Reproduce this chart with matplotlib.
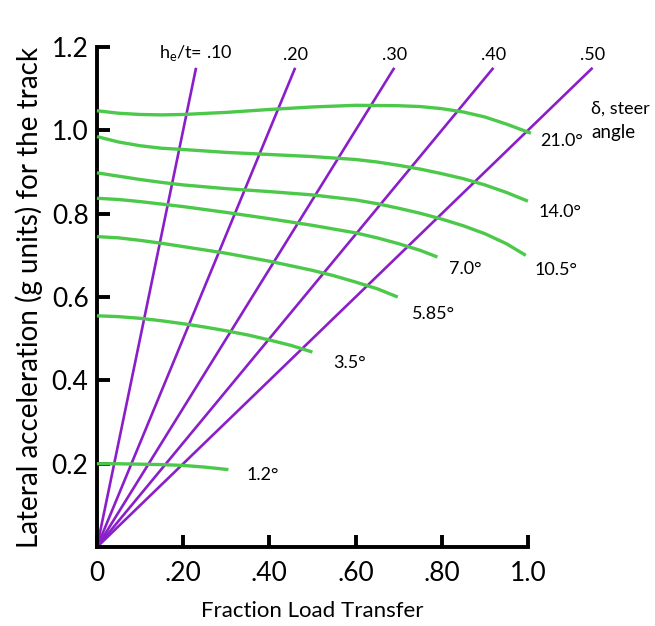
import matplotlib.pyplot as plt
import numpy as np

plt.rcParams['font.family'] = ['Lato', 'DejaVu Sans']

# h_e/t ratios for the purple load-transfer lines
ratios = [0.10, 0.20, 0.30, 0.40, 0.50]
ratio_labels = ["h$_\\mathregular{e}$/t= .10", ".20", ".30", ".40", ".50"]
y_top = 1.15  # lines run from origin up to this lateral acceleration

# steer angle curves (fraction load transfer, lateral acceleration)
steer_labels = ["21.0°", "14.0°", "10.5°", "7.0°", "5.85°", "3.5°", "1.2°"]
steer_x = [
    [0.0, 0.05, 0.1, 0.15, 0.2, 0.3, 0.4, 0.5, 0.6, 0.7, 0.75, 0.8, 0.85,
     0.9, 0.95, 1.007],
    [0.0, 0.05, 0.1, 0.15, 0.2, 0.3, 0.4, 0.5, 0.6, 0.65, 0.7, 0.75, 0.8,
     0.85, 0.9, 0.95, 1.0],
    [0.0, 0.05, 0.1, 0.15, 0.2, 0.3, 0.4, 0.5, 0.6, 0.65, 0.7, 0.75, 0.8,
     0.85, 0.9, 0.95, 0.995],
    [0.0, 0.05, 0.1, 0.15, 0.2, 0.3, 0.4, 0.5, 0.55, 0.6, 0.65, 0.7, 0.75,
     0.79],
    [0.0, 0.05, 0.1, 0.15, 0.2, 0.3, 0.4, 0.5, 0.55, 0.6, 0.65, 0.698],
    [0.0, 0.05, 0.1, 0.15, 0.2, 0.25, 0.3, 0.35, 0.4, 0.45, 0.5],
    [0.0, 0.05, 0.1, 0.15, 0.2, 0.25, 0.305],
]
steer_y = [
    [1.047, 1.041, 1.038, 1.037, 1.038, 1.043, 1.050, 1.056, 1.060, 1.059,
     1.057, 1.052, 1.044, 1.032, 1.015, 0.993],
    [0.985, 0.972, 0.963, 0.957, 0.954, 0.947, 0.942, 0.937, 0.930, 0.924,
     0.916, 0.907, 0.896, 0.884, 0.869, 0.851, 0.830],
    [0.898, 0.890, 0.882, 0.875, 0.869, 0.860, 0.853, 0.845, 0.833, 0.824,
     0.813, 0.801, 0.787, 0.771, 0.752, 0.728, 0.700],
    [0.837, 0.834, 0.829, 0.823, 0.817, 0.803, 0.788, 0.772, 0.763, 0.754,
     0.742, 0.728, 0.712, 0.696],
    [0.745, 0.742, 0.736, 0.729, 0.721, 0.705, 0.686, 0.664, 0.651, 0.636,
     0.620, 0.600],
    [0.555, 0.553, 0.549, 0.543, 0.536, 0.528, 0.519, 0.509, 0.497, 0.484,
     0.468],
    [0.200, 0.200, 0.199, 0.198, 0.196, 0.192, 0.186],
]
steer_label_pos = [(1.077, 0.975), (1.075, 0.805), (1.065, 0.665),
                   (0.855, 0.667), (0.78, 0.56), (0.585, 0.442),
                   (0.385, 0.172)]

purple = '#8a1fc9'
green = '#4cc94a'

fig = plt.figure(figsize=(6.55, 6.26), dpi=100)
ax = fig.add_axes([0.148, 0.126, 0.658, 0.799])

for r in ratios:
    ax.plot([0, 2 * r * y_top], [0, y_top], color=purple, lw=1.9,
            clip_on=False, zorder=2, solid_capstyle='butt')

for xs, ys in zip(steer_x, steer_y):
    ax.plot(xs, ys, color=green, lw=2.4, clip_on=False, zorder=3,
            solid_capstyle='butt', solid_joinstyle='round')

for lab, (lx, ly) in zip(steer_labels, steer_label_pos):
    ax.text(lx, ly, lab, fontsize=13, ha='center', va='center',
            clip_on=False)

for r, lab in zip(ratios, ratio_labels):
    ax.text(2 * r * y_top, 1.162, lab, fontsize=13, ha='center',
            va='bottom', clip_on=False)

ax.text(1.147, 1.052, "δ, steer", fontsize=13, ha='left', va='center',
        clip_on=False)
ax.text(1.147, 0.994, "angle", fontsize=13.5, ha='left', va='center',
        clip_on=False)

ax.set_xlim(0, 1.0)
ax.set_ylim(0, 1.2)
ax.spines['top'].set_visible(False)
ax.spines['right'].set_visible(False)
ax.spines['left'].set_linewidth(2.8)
ax.spines['bottom'].set_linewidth(2.8)

ax.set_xticks([0, 0.2, 0.4, 0.6, 0.8, 1.0])
ax.set_xticklabels(["0", ".20", ".40", ".60", ".80", "1.0"])
ax.set_yticks([0.2, 0.4, 0.6, 0.8, 1.0, 1.2])
ax.set_yticklabels(["0.2", "0.4", "0.6", "0.8", "1.0", "1.2"])
ax.tick_params(axis='both', direction='in', length=9, width=2.8,
               labelsize=19)
ax.tick_params(axis='x', pad=10)
ax.tick_params(axis='y', pad=6)

ax.set_xlabel("Fraction Load Transfer", fontsize=16, labelpad=11)
ax.set_ylabel("Lateral acceleration (g units) for the track", fontsize=20,
              labelpad=6)

fig.savefig("out.png", dpi=100)
